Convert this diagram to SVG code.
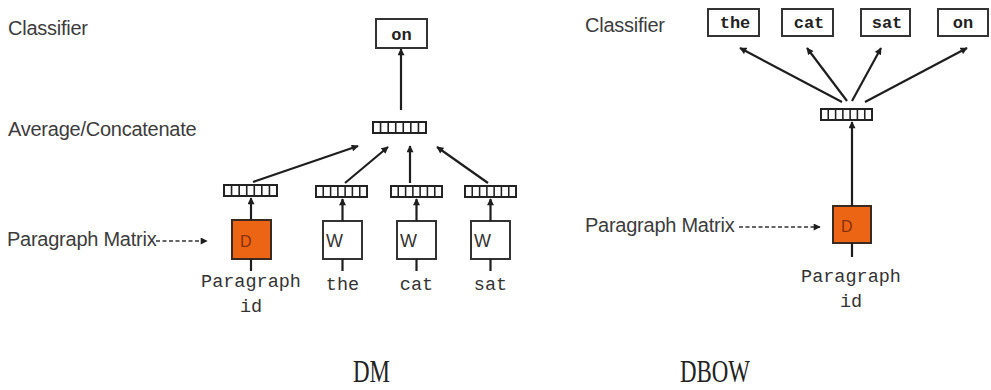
<svg xmlns="http://www.w3.org/2000/svg" xmlns:xlink="http://www.w3.org/1999/xlink" width="991" height="390" viewBox="0 0 991 390">
  <style>
    .lbl { font-family: "Liberation Sans", Arial, sans-serif; font-size: 20px; fill: #3c3c3c; letter-spacing: -0.25px; }
    .word { font-family: "Liberation Mono", "Courier New", monospace; font-size: 18.5px; fill: #333; text-anchor: middle; }
    .cls { font-family: "Liberation Mono", "Courier New", monospace; font-size: 17px; font-weight: bold; fill: #222; text-anchor: middle; }
    .box { fill: #fff; stroke: #333; stroke-width: 2; }
    .dbox { fill: #ec6514; stroke: #3a2a20; stroke-width: 2; }
    .dtxt { font-family: "Liberation Sans", Arial, sans-serif; font-size: 16px; fill: #8a300a; }
    .wtxt { font-family: "Liberation Sans", Arial, sans-serif; font-size: 18px; fill: #333; }
    .edge { stroke: #1e1e1e; stroke-width: 2.2; fill: none; marker-end: url(#head); }
    .stub { stroke: #1e1e1e; stroke-width: 2.2; fill: none; }
    .dash { stroke: #333; stroke-width: 1.6; fill: none; stroke-dasharray: 4 2.5; marker-end: url(#head); }
    .title { font-family: "Liberation Serif", "Times New Roman", serif; font-size: 31px; fill: #222; }
  </style>
  <defs>
    <marker id="head" viewBox="0 0 10 10" refX="9" refY="5" markerWidth="8" markerHeight="7" markerUnits="userSpaceOnUse" orient="auto">
      <path d="M0,0 L10,5 L0,10 z" fill="#1e1e1e"/>
    </marker>
    <!-- seven-cell embedding vector -->
    <symbol id="vec" viewBox="0 0 54 13" preserveAspectRatio="none">
      <rect x="1" y="1" width="52" height="11" fill="#fff" stroke="#222" stroke-width="2"/>
      <path d="M8.4,1V12 M15.9,1V12 M23.3,1V12 M30.7,1V12 M38.1,1V12 M45.6,1V12" stroke="#222" stroke-width="1.6"/>
    </symbol>
  </defs>

  <!-- ===== DM ===== -->
  <g id="dm-labels">
    <text class="lbl" x="8" y="35">Classifier</text>
    <text class="lbl" x="8" y="136">Average/Concatenate</text>
    <text class="lbl" x="7" y="246">Paragraph Matrix</text>
  </g>

  <g id="dm-on">
    <rect class="box" x="376" y="19" width="51" height="29"/>
    <text class="cls" x="401.5" y="40">on</text>
  </g>
  <g id="dm-avg"><use href="#vec" x="372" y="121" width="55" height="13"/></g>

  <g id="dm-vec-d"><use href="#vec" x="223" y="184" width="55" height="13"/></g>
  <g id="dm-vec-the"><use href="#vec" x="315" y="185" width="53" height="13"/></g>
  <g id="dm-vec-cat"><use href="#vec" x="390" y="185" width="53" height="13"/></g>
  <g id="dm-vec-sat"><use href="#vec" x="464" y="185" width="53" height="13"/></g>

  <g id="dm-d">
    <rect class="dbox" x="232" y="220" width="39" height="39"/>
    <text class="dtxt" x="240" y="247">D</text>
    <text class="word" x="251" y="287">Paragraph</text>
    <text class="word" x="251" y="312">id</text>
  </g>
  <g id="dm-w-the">
    <rect class="box" x="323" y="221" width="39" height="38"/>
    <text class="wtxt" x="326" y="247">W</text>
    <text class="word" x="342.5" y="290">the</text>
  </g>
  <g id="dm-w-cat">
    <rect class="box" x="397" y="221" width="39" height="38"/>
    <text class="wtxt" x="400" y="247">W</text>
    <text class="word" x="416.5" y="290">cat</text>
  </g>
  <g id="dm-w-sat">
    <rect class="box" x="471" y="221" width="39" height="38"/>
    <text class="wtxt" x="474" y="247">W</text>
    <text class="word" x="490.5" y="290">sat</text>
  </g>

  <g id="dm-connectors">
    <line class="edge" x1="401" y1="110" x2="401" y2="49"/>
    <line class="edge" x1="253" y1="182" x2="358" y2="146"/>
    <line class="edge" x1="345" y1="183" x2="388" y2="147"/>
    <line class="edge" x1="410" y1="183" x2="410" y2="146"/>
    <line class="edge" x1="488" y1="183" x2="437" y2="147"/>
    <line class="edge" x1="251" y1="220" x2="251" y2="198"/>
    <line class="edge" x1="342.5" y1="221" x2="342.5" y2="199"/>
    <line class="edge" x1="416.5" y1="221" x2="416.5" y2="199"/>
    <line class="edge" x1="490.5" y1="221" x2="490.5" y2="199"/>
    <line class="stub" x1="251" y1="259" x2="251" y2="271"/>
    <line class="stub" x1="342.5" y1="259" x2="342.5" y2="271"/>
    <line class="stub" x1="416.5" y1="259" x2="416.5" y2="271"/>
    <line class="stub" x1="490.5" y1="259" x2="490.5" y2="271"/>
    <line class="dash" x1="156" y1="241" x2="207" y2="241"/>
  </g>

  <!-- ===== DBOW ===== -->
  <g id="dbow-labels">
    <text class="lbl" x="585" y="32">Classifier</text>
    <text class="lbl" x="585" y="232">Paragraph Matrix</text>
  </g>

  <g id="dbow-the">
    <rect class="box" x="708" y="9" width="51" height="27"/>
    <text class="cls" x="735" y="28">the</text>
  </g>
  <g id="dbow-cat">
    <rect class="box" x="782" y="9" width="51" height="27"/>
    <text class="cls" x="809" y="28">cat</text>
  </g>
  <g id="dbow-sat">
    <rect class="box" x="861" y="9" width="49" height="27"/>
    <text class="cls" x="887" y="28">sat</text>
  </g>
  <g id="dbow-on">
    <rect class="box" x="938" y="9" width="50" height="27"/>
    <text class="cls" x="963" y="28">on</text>
  </g>

  <g id="dbow-vec"><use href="#vec" x="820" y="108" width="53" height="13"/></g>

  <g id="dbow-d">
    <rect class="dbox" x="833" y="206" width="38" height="37"/>
    <text class="dtxt" x="841" y="232">D</text>
    <text class="word" x="851" y="282">Paragraph</text>
    <text class="word" x="851" y="307">id</text>
  </g>

  <g id="dbow-connectors">
    <line class="edge" x1="842" y1="102" x2="740" y2="48"/>
    <line class="edge" x1="847" y1="101" x2="807" y2="48"/>
    <line class="edge" x1="852" y1="101" x2="881" y2="48"/>
    <line class="edge" x1="865" y1="102" x2="967" y2="48"/>
    <line class="edge" x1="852" y1="206" x2="852" y2="122"/>
    <line class="stub" x1="852" y1="243" x2="852" y2="257"/>
    <line class="dash" x1="739" y1="227" x2="820" y2="227"/>
  </g>

  <!-- model titles -->
  <g id="titles">
    <text class="title" x="353" y="382" textLength="37" lengthAdjust="spacingAndGlyphs">DM</text>
    <text class="title" x="680" y="382" textLength="70" lengthAdjust="spacingAndGlyphs">DBOW</text>
  </g>
</svg>
